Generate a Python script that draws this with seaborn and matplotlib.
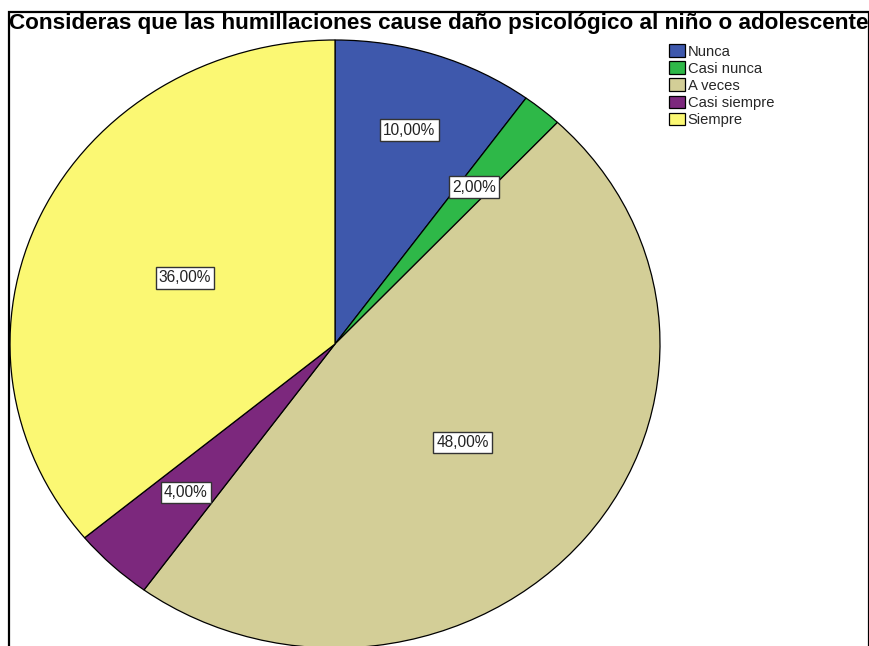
import numpy as np
import pandas as pd
import matplotlib
matplotlib.use('Agg')
import matplotlib.pyplot as plt
from matplotlib.patches import Rectangle
import seaborn as sns

# data
categories = ['Nunca', 'Casi nunca', 'A veces', 'Casi siempre', 'Siempre']
percent = [10.0, 2.0, 48.0, 4.0, 36.0]
colors = ['#3E58AC', '#2EB848', '#D3CE97', '#7C287D', '#FBF873']
title = 'Consideras que las humillaciones cause daño psicológico al niño o adolescente'

df = pd.DataFrame({'cat': categories, 'pct': percent})

sns.set_theme(style='white')
plt.rcParams['font.family'] = ['Liberation Sans', 'DejaVu Sans']

W, H = 870, 646
fig = plt.figure(figsize=(W / 100, H / 100), dpi=100)

# pie area in pixels: x 10..660, y 40..648 (top-down)
px_l, px_r, px_t, px_b = 10, 660, 40, 648
ax = fig.add_axes([px_l / W, 1 - px_b / H, (px_r - px_l) / W, (px_b - px_t) / H])

pal = sns.color_palette(colors)
wedges, _ = ax.pie(df['pct'], colors=pal, startangle=90, counterclock=False,
                   wedgeprops=dict(edgecolor='black', linewidth=0.9))
for w in wedges:
    w.set_clip_on(False)
ax.set_aspect('auto')
ax.set_xlim(-1, 1)
ax.set_ylim(-1, 1)
ax.axis('off')

# label positions (fraction of radius) per slice
label_r = [0.74, 0.67, 0.51, 0.67, 0.51]
for w, p, r in zip(wedges, df['pct'], label_r):
    ang = np.deg2rad((w.theta1 + w.theta2) / 2)
    ax.text(r * np.cos(ang), r * np.sin(ang), f'{p:.2f}%'.replace('.', ','),
            ha='center', va='center', fontsize=11.2, color='#222222',
            bbox=dict(boxstyle='square,pad=0.2', facecolor='white',
                      edgecolor='#333333', linewidth=1.0))

fig.text(439 / W, 1 - 24 / H, title, ha='center', va='center',
         fontsize=16.2, fontweight='bold', color='black')

fig.legend(wedges, categories, loc='upper left',
           bbox_to_anchor=(662 / W, 1 - 37 / H), frameon=False,
           fontsize=10.6, handlelength=1.05, handleheight=0.95,
           handletextpad=0.2, labelspacing=0.18, borderpad=0.0)

# outer frame
fig.patches.append(Rectangle((9 / W, -0.05), 860 / W, 1.05 - 12 / H,
                             transform=fig.transFigure, fill=False,
                             edgecolor='black', linewidth=1.6, zorder=10))

fig.savefig('out.png', dpi=100, facecolor='white')
